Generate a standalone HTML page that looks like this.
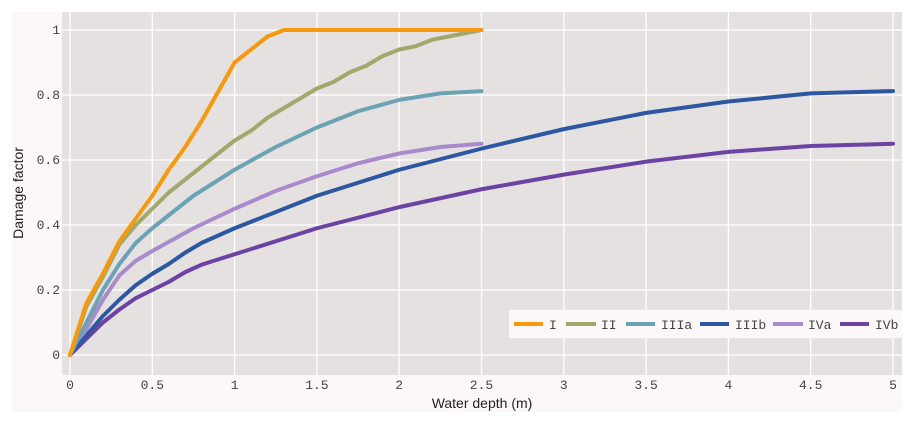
<!DOCTYPE html>
<html><head><style>body{margin:0;background:#fff}svg{display:block}</style></head><body>
<svg width="914" height="424" xmlns="http://www.w3.org/2000/svg" font-family="Liberation Mono, monospace">
<rect x="12" y="12" width="890" height="400" fill="#fdf8f8"/>
<rect x="62" y="12" width="840" height="363" fill="#e5e1e1"/>
<g stroke="#fff" stroke-width="1.3">
<line x1="62" x2="902" y1="355" y2="355"/><line x1="62" x2="902" y1="290" y2="290"/><line x1="62" x2="902" y1="225" y2="225"/><line x1="62" x2="902" y1="160" y2="160"/><line x1="62" x2="902" y1="95" y2="95"/><line x1="62" x2="902" y1="30" y2="30"/>
<line y1="12" y2="375" x1="70" x2="70"/><line y1="12" y2="375" x1="152.3" x2="152.3"/><line y1="12" y2="375" x1="234.6" x2="234.6"/><line y1="12" y2="375" x1="316.9" x2="316.9"/><line y1="12" y2="375" x1="399.2" x2="399.2"/><line y1="12" y2="375" x1="481.5" x2="481.5"/><line y1="12" y2="375" x1="563.8" x2="563.8"/><line y1="12" y2="375" x1="646.1" x2="646.1"/><line y1="12" y2="375" x1="728.4" x2="728.4"/><line y1="12" y2="375" x1="810.7" x2="810.7"/><line y1="12" y2="375" x1="893" x2="893"/>
</g>
<g font-size="13" fill="#444" text-anchor="end">
<text x="60" y="359">0</text><text x="60" y="294">0.2</text><text x="60" y="229">0.4</text><text x="60" y="164">0.6</text><text x="60" y="99">0.8</text><text x="60" y="34">1</text>
</g>
<g font-size="13" fill="#444" text-anchor="middle">
<text x="70" y="389">0</text><text x="152.3" y="389">0.5</text><text x="234.6" y="389">1</text><text x="316.9" y="389">1.5</text><text x="399.2" y="389">2</text><text x="481.5" y="389">2.5</text><text x="563.8" y="389">3</text><text x="646.1" y="389">3.5</text><text x="728.4" y="389">4</text><text x="810.7" y="389">4.5</text><text x="893" y="389">5</text>
</g>
<text x="482" y="408" font-family="Liberation Sans, sans-serif" font-size="14" text-anchor="middle" fill="#222">Water depth (m)</text>
<text transform="translate(23,193) rotate(-90)" font-family="Liberation Sans, sans-serif" font-size="14" text-anchor="middle" fill="#222">Damage factor</text>
<g transform="translate(70,355) scale(164.6,-325)" fill="none" stroke-width="4" stroke-linejoin="round" stroke-linecap="round">
<polyline vector-effect="non-scaling-stroke" stroke="#6c43a3" points="0,0 .1,.05 .2,.1 .3,.14 .4,.175 .5,.2 .6,.225 .7,.255 .8,.278 1,.31 1.5,.39 2,.455 2.5,.51 3,.555 3.5,.595 4,.625 4.5,.643 5,.65"/>
<polyline vector-effect="non-scaling-stroke" stroke="#a98bcb" points="0,0 .1,.08 .2,.17 .3,.245 .4,.29 .5,.32 .75,.39 1,.45 1.25,.505 1.5,.55 1.75,.59 2,.62 2.25,.64 2.5,.65"/>
<polyline vector-effect="non-scaling-stroke" stroke="#2d57a0" points="0,0 .1,.06 .2,.12 .3,.17 .4,.215 .5,.25 .6,.28 .7,.315 .8,.345 1,.39 1.5,.49 2,.57 2.5,.635 3,.695 3.5,.745 4,.78 4.5,.805 5,.812"/>
<polyline vector-effect="non-scaling-stroke" stroke="#6ba3b5" points="0,0 .1,.1 .2,.2 .3,.28 .4,.345 .5,.39 .75,.49 1,.57 1.25,.64 1.5,.70 1.75,.75 2,.785 2.25,.805 2.5,.812"/>
<polyline vector-effect="non-scaling-stroke" stroke="#a2a86c" points="0,0 .1,.15 .2,.24 .3,.34 .4,.4 .5,.45 .6,.5 .7,.54 .8,.58 .9,.62 1,.66 1.1,.69 1.2,.73 1.3,.76 1.4,.79 1.5,.82 1.6,.84 1.7,.87 1.8,.89 1.9,.92 2,.94 2.1,.95 2.2,.97 2.3,.98 2.4,.99 2.5,1"/>
<polyline vector-effect="non-scaling-stroke" stroke="#f5990f" points="0,0 .1,.16 .2,.25 .3,.35 .4,.42 .5,.49 .6,.57 .7,.64 .8,.72 .9,.81 1,.9 1.1,.94 1.2,.98 1.3,1 1.4,1 2.5,1"/>
</g>
<rect x="509" y="310" width="393" height="28" fill="#fdf8f8"/>
<g stroke-width="4">
<line x1="514" x2="543" y1="324" y2="324" stroke="#f5990f"/>
<line x1="566" x2="596" y1="324" y2="324" stroke="#a2a86c"/>
<line x1="626" x2="655" y1="324" y2="324" stroke="#6ba3b5"/>
<line x1="700" x2="729" y1="324" y2="324" stroke="#2d57a0"/>
<line x1="773" x2="803" y1="324" y2="324" stroke="#a98bcb"/>
<line x1="840" x2="869" y1="324" y2="324" stroke="#6c43a3"/>
</g>
<g font-size="13" fill="#444">
<text x="549" y="329">I</text><text x="601" y="329">II</text><text x="661" y="329">IIIa</text><text x="735" y="329">IIIb</text><text x="808" y="329">IVa</text><text x="875" y="329">IVb</text>
</g>
</svg>
</body></html>
